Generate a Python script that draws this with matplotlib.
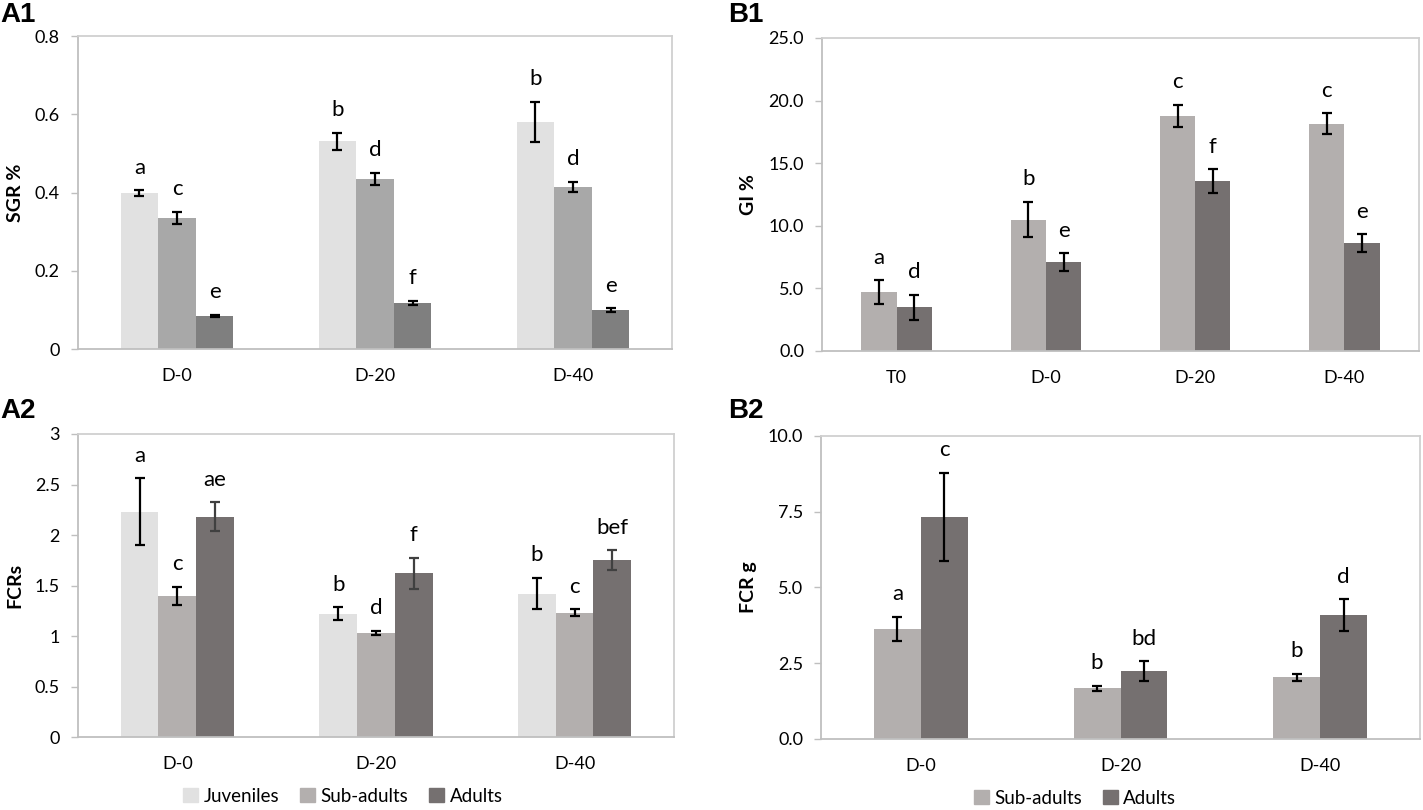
import numpy as np
import matplotlib
matplotlib.use("Agg")
import matplotlib.pyplot as plt
from matplotlib.patches import Patch

plt.rcParams["font.family"] = ["Lato", "DejaVu Sans"]

# ---- data ----
days = ["D-0", "D-20", "D-40"]
days_b1 = ["T0", "D-0", "D-20", "D-40"]

sgr_juv = [0.398, 0.531, 0.581]
sgr_juv_err = [0.008, 0.022, 0.051]
sgr_sub = [0.335, 0.435, 0.415]
sgr_sub_err = [0.016, 0.015, 0.013]
sgr_adu = [0.085, 0.118, 0.099]
sgr_adu_err = [0.002, 0.005, 0.005]
sgr_letters = [["a", "b", "b"], ["c", "d", "d"], ["e", "f", "e"]]

fcrs_juv = [2.23, 1.22, 1.42]
fcrs_juv_err = [0.33, 0.065, 0.155]
fcrs_sub = [1.40, 1.03, 1.23]
fcrs_sub_err = [0.09, 0.02, 0.035]
fcrs_adu = [2.18, 1.62, 1.75]
fcrs_adu_err = [0.145, 0.155, 0.10]
fcrs_letters = [["a", "b", "b"], ["c", "d", "c"], ["ae", "f", "bef"]]

gi_sub = [4.7, 10.5, 18.8, 18.15]
gi_sub_err = [0.93, 1.4, 0.87, 0.85]
gi_adu = [3.5, 7.1, 13.55, 8.6]
gi_adu_err = [1.0, 0.7, 0.95, 0.72]
gi_letters = [["a", "b", "c", "c"], ["d", "e", "f", "e"]]

fcrg_sub = [3.63, 1.67, 2.04]
fcrg_sub_err = [0.41, 0.09, 0.12]
fcrg_adu = [7.33, 2.23, 4.08]
fcrg_adu_err = [1.46, 0.33, 0.53]
fcrg_letters = [["a", "b", "b"], ["c", "bd", "d"]]

C_JUV = "#e1e1e1"
C_SUB_A1, C_ADU_A1 = "#a8a8a8", "#7f7f7f"
C_SUB, C_ADU = "#b3afae", "#757070"
FRAME = "#d0d0d0"
TICK_FS = 13
LET_FS = 16


def bar_panel(ax, cats, series, width, ylim, yticks, yticklabels, ylabel):
    x = np.arange(len(cats))
    n = len(series)
    for k, (vals, errs, color, ecolor, letters) in enumerate(series):
        xs = x + (k - (n - 1) / 2) * width
        ax.bar(xs, vals, width, color=color, zorder=2)
        ax.errorbar(xs, vals, yerr=errs, fmt="none", ecolor=ecolor,
                    elinewidth=1.6, capsize=3.5, capthick=1.6, zorder=3)
        for xi, v, e, lab in zip(xs, vals, errs, letters):
            ax.annotate(lab, (xi, v + e), xytext=(0, 9), textcoords="offset points",
                        ha="center", va="bottom", fontsize=LET_FS)
    ax.set_xlim(-0.5, len(cats) - 0.5)
    ax.set_ylim(*ylim)
    ax.set_xticks(x)
    ax.set_xticklabels(cats, fontsize=TICK_FS)
    ax.set_yticks(yticks)
    ax.set_yticklabels(yticklabels, fontsize=TICK_FS)
    ax.tick_params(axis="x", length=0, pad=14)
    ax.tick_params(axis="y", length=5, color="#bfbfbf", width=1, pad=8)
    for s in ax.spines.values():
        s.set_color(FRAME)
        s.set_linewidth(1.3)
    ax.spines["left"].set_color("#bfbfbf")
    ax.spines["bottom"].set_color("#bfbfbf")
    ax.set_ylabel(ylabel, fontsize=14, fontweight="bold", labelpad=8)


fig = plt.figure(figsize=(14.23, 8.10), dpi=100)

ax_a1 = fig.add_axes([0.0548, 0.5691, 0.4174, 0.3864])
bar_panel(ax_a1, days, [
    (sgr_juv, sgr_juv_err, C_JUV, "black", sgr_letters[0]),
    (sgr_sub, sgr_sub_err, C_SUB_A1, "black", sgr_letters[1]),
    (sgr_adu, sgr_adu_err, C_ADU_A1, "black", sgr_letters[2]),
], 0.19, (0, 0.8), [0, 0.2, 0.4, 0.6, 0.8], ["0", "0.2", "0.4", "0.6", "0.8"], "SGR %")

ax_b1 = fig.add_axes([0.5777, 0.5667, 0.4195, 0.3864])
bar_panel(ax_b1, days_b1, [
    (gi_sub, gi_sub_err, C_SUB, "black", gi_letters[0]),
    (gi_adu, gi_adu_err, C_ADU, "black", gi_letters[1]),
], 0.236, (0, 25), [0, 5, 10, 15, 20, 25], ["0.0", "5.0", "10.0", "15.0", "20.0", "25.0"], "GI %")

ax_a2 = fig.add_axes([0.0548, 0.0901, 0.4188, 0.3741])
bar_panel(ax_a2, days, [
    (fcrs_juv, fcrs_juv_err, C_JUV, "black", fcrs_letters[0]),
    (fcrs_sub, fcrs_sub_err, C_SUB, "black", fcrs_letters[1]),
    (fcrs_adu, fcrs_adu_err, C_ADU, "#404040", fcrs_letters[2]),
], 0.19, (0, 3), [0, 0.5, 1, 1.5, 2, 2.5, 3], ["0", "0.5", "1", "1.5", "2", "2.5", "3"], "FCRs")

ax_b2 = fig.add_axes([0.5770, 0.0877, 0.4209, 0.3741])
bar_panel(ax_b2, days, [
    (fcrg_sub, fcrg_sub_err, C_SUB, "black", fcrg_letters[0]),
    (fcrg_adu, fcrg_adu_err, C_ADU, "black", fcrg_letters[1]),
], 0.235, (0, 10), [0, 2.5, 5, 7.5, 10], ["0.0", "2.5", "5.0", "7.5", "10.0"], "FCR g")

# legends
leg_kw = dict(frameon=False, fontsize=13.5, ncol=3, handlelength=0.8, handleheight=0.8,
              handletextpad=0.3, columnspacing=1.1, borderaxespad=0)
fig.legend(handles=[Patch(color=C_JUV, label="Juveniles"),
                    Patch(color=C_SUB, label="Sub-adults"),
                    Patch(color=C_ADU, label="Adults")],
           loc="center", bbox_to_anchor=(343 / 1423, 1 - 796 / 810), **leg_kw)
fig.legend(handles=[Patch(color=C_SUB, label="Sub-adults"),
                    Patch(color=C_ADU, label="Adults")],
           loc="center", bbox_to_anchor=(1075 / 1423, 1 - 798 / 810), **leg_kw)

# panel labels
for lab, x, y in [("A1", 0.0, 0.997), ("B1", 728 / 1423, 0.997),
                  ("A2", 0.0, 1 - 398 / 810), ("B2", 728 / 1423, 1 - 398 / 810)]:
    fig.text(x, y, lab, fontsize=20, fontweight="bold", family=["Liberation Sans", "DejaVu Sans"],
             ha="left", va="top")

fig.savefig("out.png", dpi=100)
